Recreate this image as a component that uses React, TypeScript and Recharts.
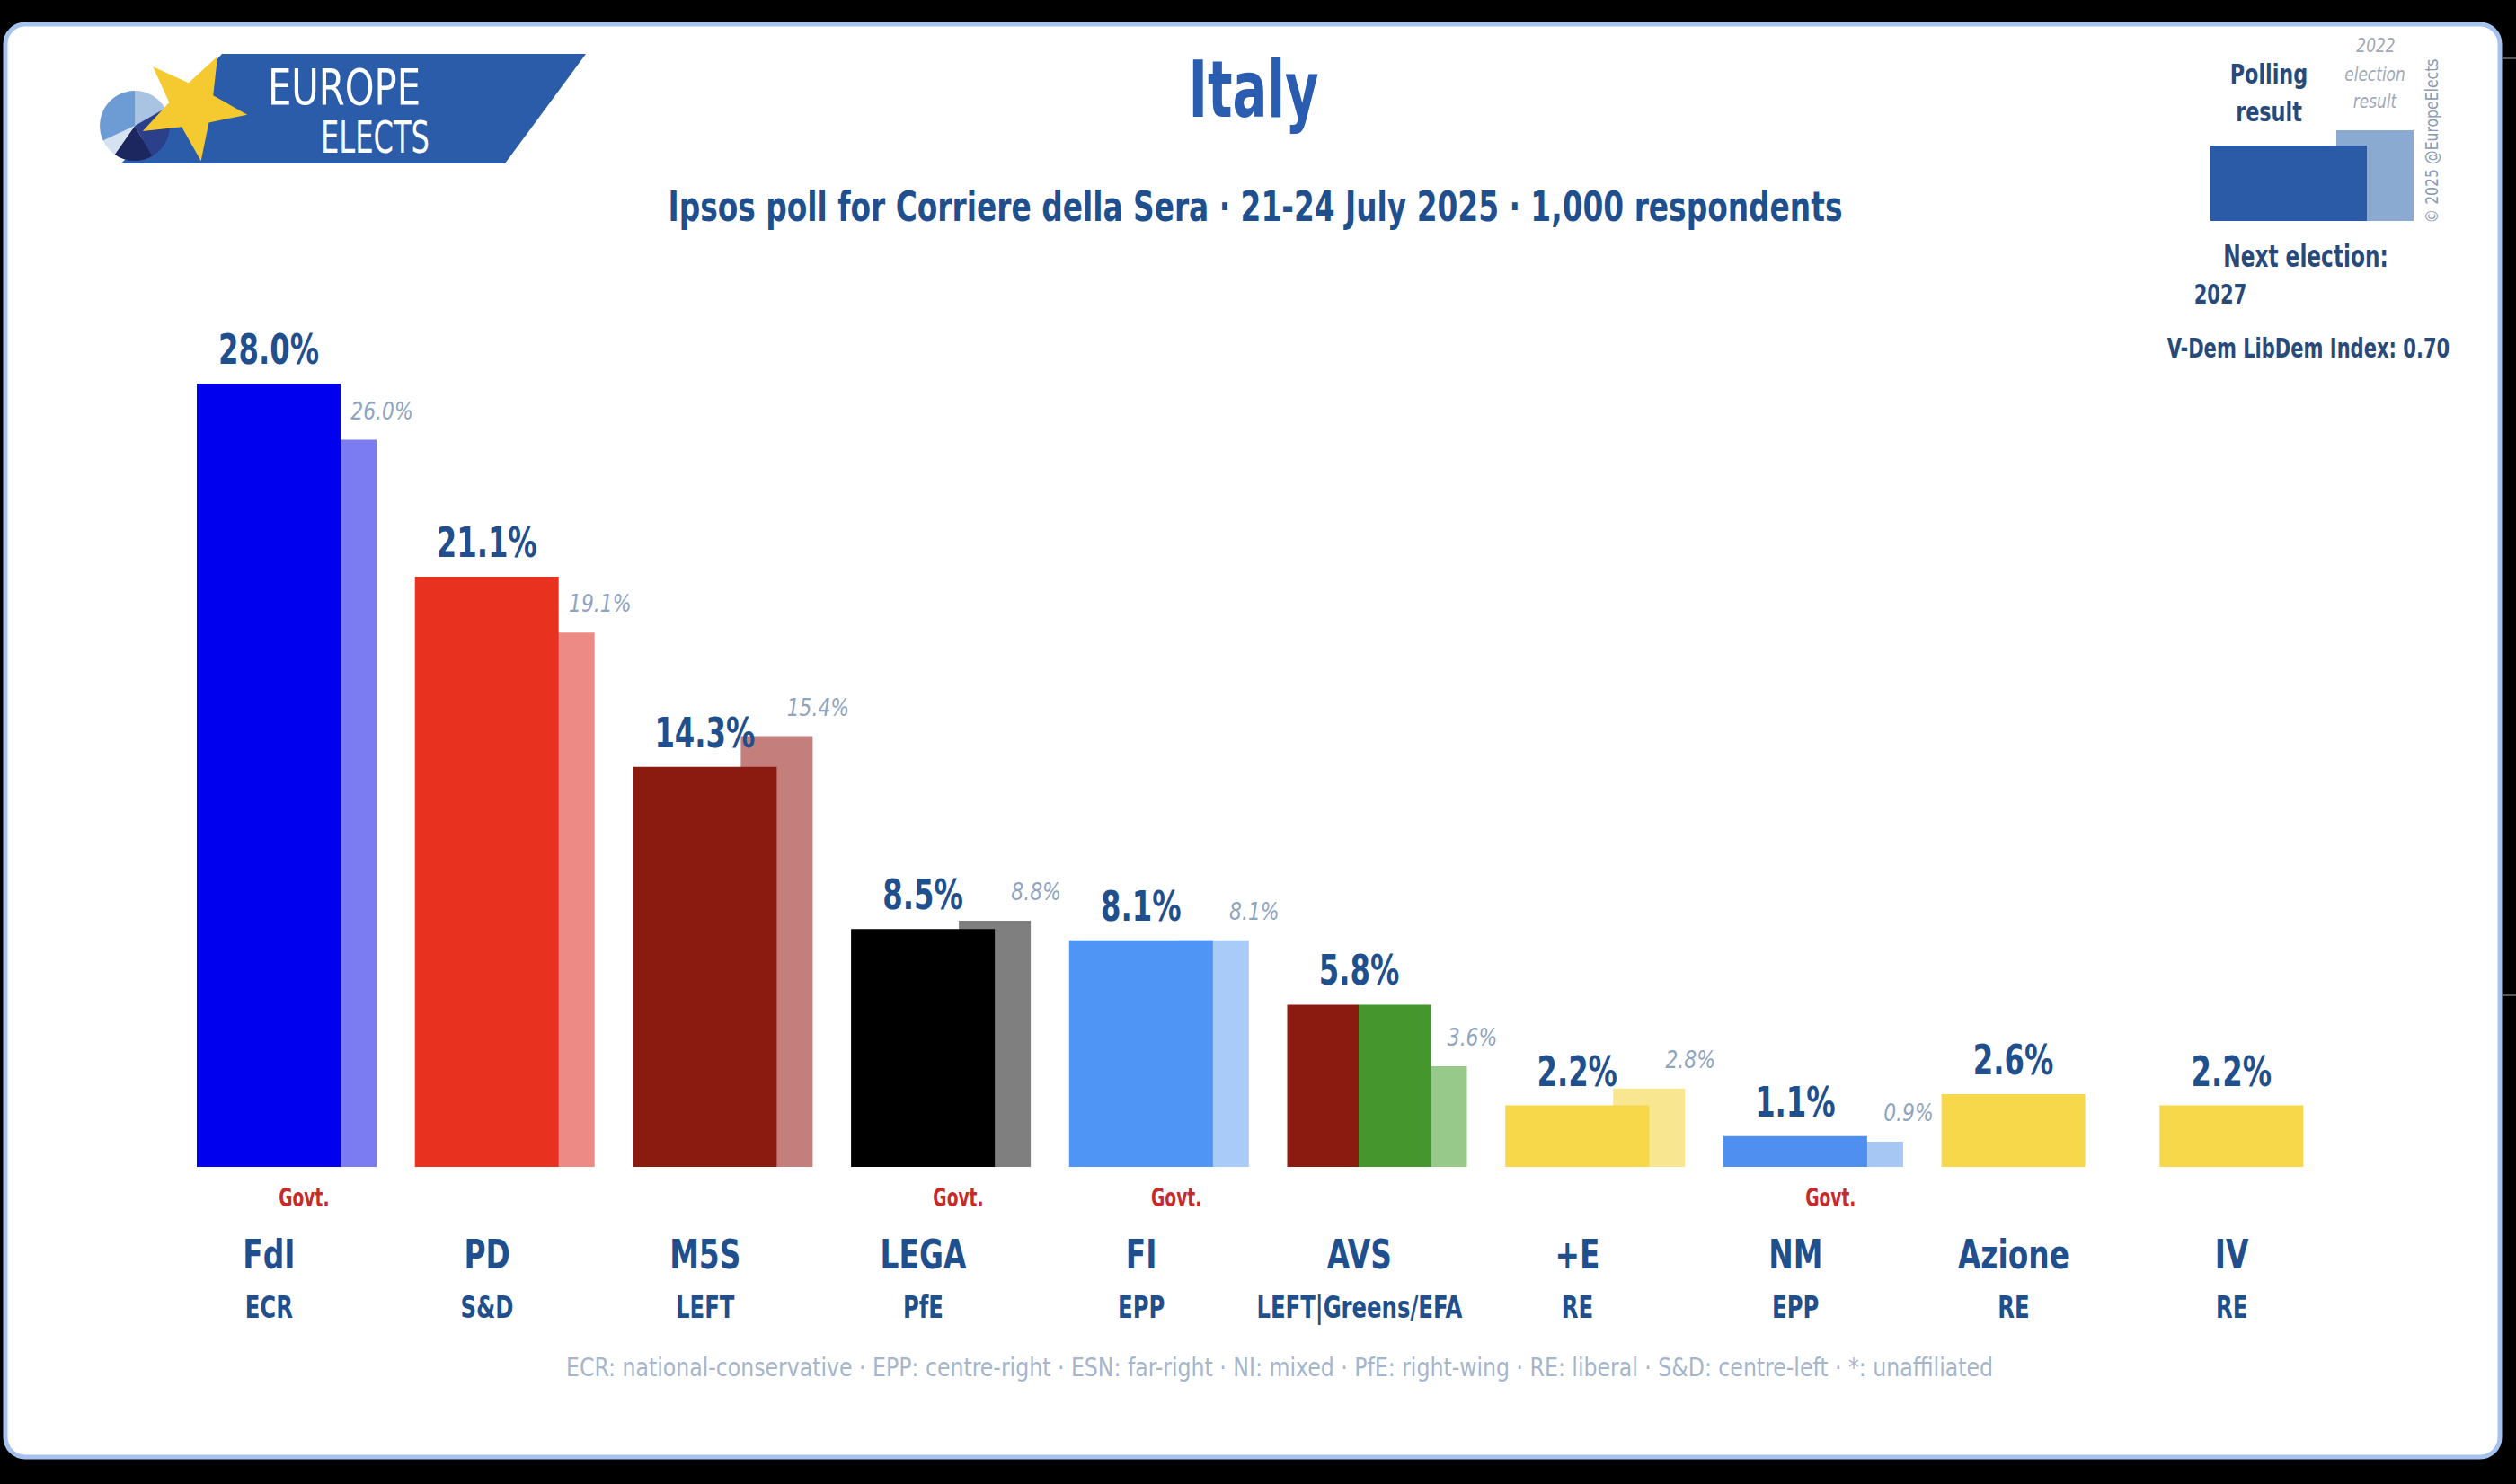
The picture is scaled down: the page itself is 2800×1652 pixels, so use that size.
import React from "react";
import { Bar, BarChart, Cell, LabelList, XAxis, YAxis } from "recharts";

// poll data
const parties = ["FdI", "PD", "M5S", "LEGA", "FI", "AVS", "+E", "NM", "Azione", "IV"];
const groups = ["ECR", "S&D", "LEFT", "PfE", "EPP", "LEFT|Greens/EFA", "RE", "EPP", "RE", "RE"];
const polling = [28.0, 21.1, 14.3, 8.5, 8.1, 5.8, 2.2, 1.1, 2.6, 2.2];
const election2022: (number | null)[] = [26.0, 19.1, 15.4, 8.8, 8.1, 3.6, 2.8, 0.9, null, null];
const inGovt = [true, false, false, true, true, false, false, true, false, false];

// party colours
const mainColors = ["#0000ee", "#e8311f", "#8b1a10", "#000000", "#4f95f5", "url(#avsSplit)", "#f6d84a", "#4f8ff0", "#f6d84a", "#f6d84a"];
const prevColors = ["#7b7bf2", "#ee8a85", "#c47e7c", "#7f7f7f", "#a9cbf7", "#96c98a", "#f8e690", "#a6c7f3", "#f8e690", "#f8e690"];

const rows = parties.map((party, i) => ({ party, poll: polling[i], prev: election2022[i] }));

const W = 2800;
const H = 1652;
const FONT = "'DejaVu Sans Condensed', 'Liberation Sans', 'Open Sans', sans-serif";
const NAVY = "#1f4f8c";
const LEGEND = "#274a7a";
const MAIN_SHIFT = -60; // main bar centre relative to band centre

// text squeezed horizontally to imitate the narrow Europe Elects type
const Narrow = ({ x, y, sx, children, ...rest }: any) => (
  <text transform={`translate(${x} ${y}) scale(${sx} 1)`} x={0} y={0} {...rest}>
    {children}
  </text>
);

function starPoints(cx: number, cy: number, R: number, r: number, rot: number) {
  const pts: string[] = [];
  for (let i = 0; i < 10; i++) {
    const a = ((rot + i * 36) * Math.PI) / 180;
    const rad = i % 2 === 0 ? R : r;
    pts.push(`${(cx + rad * Math.cos(a)).toFixed(1)},${(cy + rad * Math.sin(a)).toFixed(1)}`);
  }
  return pts.join(" ");
}

function slice(cx: number, cy: number, r: number, a0: number, a1: number) {
  const p = (a: number) => {
    const t = ((a - 90) * Math.PI) / 180;
    return `${(cx + r * Math.cos(t)).toFixed(1)},${(cy + r * Math.sin(t)).toFixed(1)}`;
  };
  const large = a1 - a0 > 180 ? 1 : 0;
  return `M${cx},${cy} L${p(a0)} A${r},${r} 0 ${large} 1 ${p(a1)} Z`;
}

const MainLabel = (props: any) => {
  const { x, y, width, value } = props;
  if (value == null) return null;
  return (
    <Narrow x={Number(x) + Number(width) / 2} y={Number(y) - 22} sx={0.78} textAnchor="middle"
      fontFamily={FONT} fontWeight={700} fontSize={46} fill={NAVY}>
      {Number(value).toFixed(1)}%
    </Narrow>
  );
};

const PrevLabel = (props: any) => {
  const { x, y, width, value } = props;
  if (value == null) return null;
  return (
    <Narrow x={Number(x) + Number(width) + 6} y={Number(y) - 23} sx={0.9} textAnchor="middle"
      fontFamily={FONT} fontStyle="italic" fontSize={27} fill="#8fa4c0">
      {Number(value).toFixed(1)}%
    </Narrow>
  );
};

const PartyTick = (props: any) => {
  const { x, y, payload } = props;
  const i = parties.indexOf(payload.value);
  const cx = Number(x) + MAIN_SHIFT;
  return (
    <g fontFamily={FONT} textAnchor="middle">
      {inGovt[i] && (
        <Narrow x={cx + 39} y={y + 44} sx={0.74} fontSize={28} fontWeight={700} fill="#c62a2a">Govt.</Narrow>
      )}
      <Narrow x={cx} y={y + 113} sx={0.83} fontSize={44} fontWeight={700} fill={NAVY}>{payload.value}</Narrow>
      <Narrow x={cx} y={y + 168} sx={0.82} fontSize={33} fontWeight={700} fill={NAVY}>{groups[i]}</Narrow>
    </g>
  );
};

export default function App() {
  return (
    <div style={{ position: "fixed", left: 0, top: 0, width: W, height: H, background: "#000" }}>
      <svg width={W} height={H} style={{ position: "absolute", left: 0, top: 0 }}>
        <line x1={2785} y1={65} x2={2800} y2={65} stroke="#555" strokeWidth={2} />
        <line x1={2785} y1={1108} x2={2800} y2={1108} stroke="#555" strokeWidth={2} />
        <rect x={6} y={27} width={2776} height={1595} rx={22} fill="#fff" stroke="#a6c3ef" strokeWidth={5} />
      </svg>

      <div style={{ position: "absolute", left: 0, top: 0 }}>
        <BarChart width={W} height={H} data={rows} barGap={-200}
          margin={{ top: 365, right: 135, bottom: 153, left: 238 }}>
          <defs>
            <linearGradient id="avsSplit" x1="0" y1="0" x2="1" y2="0">
              <stop offset="0.5" stopColor="#8b1a10" />
              <stop offset="0.5" stopColor="#45962d" />
            </linearGradient>
          </defs>
          <XAxis dataKey="party" interval={0} axisLine={false} tickLine={false} tickSize={0} tickMargin={0}
            height={200} tick={<PartyTick />} />
          <YAxis hide domain={[0, 30]} />
          <Bar dataKey="prev" barSize={80} isAnimationActive={false}>
            {rows.map((r, i) => <Cell key={r.party} fill={prevColors[i]} />)}
            <LabelList dataKey="prev" content={<PrevLabel />} />
          </Bar>
          <Bar dataKey="poll" barSize={160} isAnimationActive={false}>
            {rows.map((r, i) => <Cell key={r.party} fill={mainColors[i]} />)}
            <LabelList dataKey="poll" content={<MainLabel />} />
          </Bar>
        </BarChart>
      </div>

      <svg width={W} height={H} style={{ position: "absolute", left: 0, top: 0, pointerEvents: "none" }}
        fontFamily={FONT}>
        {/* logo */}
        <polygon points="247,60 652,60 562,182 135,182" fill="#2a5caa" />
        <path d={slice(150, 140, 39, 0, 60)} fill="#a9c3e3" />
        <path d={slice(150, 140, 39, 60, 150)} fill="#2b3f8a" />
        <path d={slice(150, 140, 39, 150, 215)} fill="#1c2760" />
        <path d={slice(150, 140, 39, 215, 245)} fill="#d6e2f1" />
        <path d={slice(150, 140, 39, 245, 360)} fill="#6d9bd3" />
        <polygon points={starPoints(214, 118, 62, 26, -63)} fill="#f5c930" />
        <text x={298} y={116} fontSize={56} fill="#fff" textLength={170} lengthAdjust="spacingAndGlyphs">EUROPE</text>
        <text x={357} y={170} fontSize={50} fill="#fff" textLength={121} lengthAdjust="spacingAndGlyphs">ELECTS</text>

        {/* titles */}
        <text x={1395} y={130} textAnchor="middle" fontSize={88} fontWeight={700} fill="#2a5db0"
          textLength={145} lengthAdjust="spacingAndGlyphs">Italy</text>
        <text x={1397} y={246} textAnchor="middle" fontSize={46} fontWeight={700} fill={NAVY}
          textLength={1307} lengthAdjust="spacingAndGlyphs">Ipsos poll for Corriere della Sera · 21-24 July 2025 · 1,000 respondents</text>

        {/* legend box */}
        <rect x={2600} y={145} width={86} height={101} fill="#8aaad2" />
        <rect x={2460} y={162} width={174} height={84} fill="#2b5aa6" />
        <g textAnchor="middle" fill={LEGEND} fontWeight={700} fontSize={31}>
          <Narrow x={2525} y={93} sx={0.8}>Polling</Narrow>
          <Narrow x={2525} y={135} sx={0.8}>result</Narrow>
        </g>
        <g textAnchor="middle" fill="#a0a9b8" fontStyle="italic" fontSize={22}>
          <Narrow x={2644} y={58} sx={0.86}>2022</Narrow>
          <Narrow x={2643} y={90} sx={0.86}>election</Narrow>
          <Narrow x={2643} y={120} sx={0.86}>result</Narrow>
        </g>
        <text transform="translate(2713,157) rotate(-90)" textAnchor="middle" fontSize={20} fill="#8a9ab0"
          textLength={183} lengthAdjust="spacingAndGlyphs">© 2025 @EuropeElects</text>
        <g textAnchor="middle" fill={LEGEND} fontWeight={700}>
          <Narrow x={2566} y={297} sx={0.76} fontSize={34}>Next election:</Narrow>
          <Narrow x={2471} y={338} sx={0.78} fontSize={30}>2027</Narrow>
          <Narrow x={2569} y={398} sx={0.78} fontSize={30}>V-Dem LibDem Index: 0.70</Narrow>
        </g>

        {/* footer */}
        <text x={1424} y={1532} textAnchor="middle" fontSize={28} fill="#a4b5cc"
          textLength={1588} lengthAdjust="spacingAndGlyphs">ECR: national-conservative · EPP: centre-right · ESN: far-right · NI: mixed · PfE: right-wing · RE: liberal · S&amp;D: centre-left · *: unaffiliated</text>
      </svg>
    </div>
  );
}
